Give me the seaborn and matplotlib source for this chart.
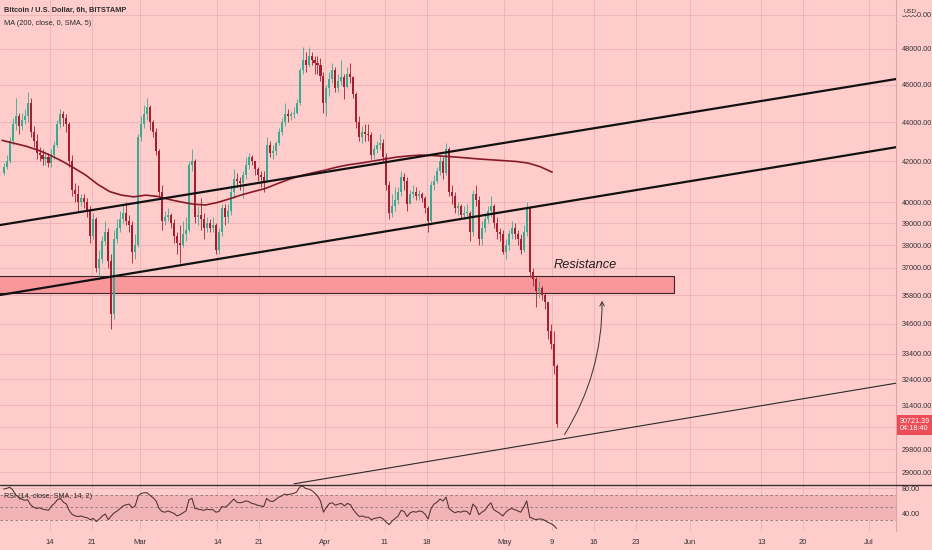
import numpy as np
import pandas as pd
import matplotlib
matplotlib.use("Agg")
import matplotlib.pyplot as plt
import matplotlib.dates as mdates
from matplotlib.patches import Rectangle, FancyArrowPatch
from matplotlib.lines import Line2D
from matplotlib.ticker import FixedLocator, FuncFormatter, NullFormatter
import seaborn as sns

# BTC/USD (Bitstamp), 12h bars, prices in thousands of USD
first_open = 41.4
closes = [
    41.7, 42.0, 43.0, 43.9, 44.3, 43.8, 44.1, 44.3, 45.0, 43.5,   # Feb 6-10
    43.0, 42.4, 42.3, 42.1, 42.2, 41.9, 42.3, 42.8, 43.9, 44.4,   # Feb 11-15
    44.2, 43.9, 42.0, 40.6, 40.4, 40.0, 40.2, 40.0, 39.6, 38.4,   # Feb 16-20
    39.2, 37.0, 37.4, 38.2, 38.6, 37.3, 35.0, 38.3, 38.8, 39.2,   # Feb 21-25
    39.5, 39.1, 38.9, 37.7, 38.0, 43.2, 43.9, 44.4, 44.8, 44.0,   # Feb 26-Mar 2
    43.5, 42.5, 40.5, 39.1, 39.3, 39.4, 39.0, 38.4, 38.1, 38.0,   # Mar 3-7
    38.5, 38.7, 41.8, 42.0, 39.3, 39.4, 39.2, 38.8, 39.0, 38.8,   # Mar 8-12
    38.9, 37.8, 38.6, 39.7, 39.3, 39.6, 40.5, 41.1, 41.0, 40.9,   # Mar 13-17
    41.3, 41.8, 42.2, 42.0, 41.6, 41.3, 41.2, 41.0, 42.8, 42.4,   # Mar 18-22
    42.5, 42.9, 43.5, 44.0, 44.4, 44.3, 44.4, 44.5, 45.0, 46.8,   # Mar 23-27
    47.4, 47.1, 47.6, 47.4, 47.2, 47.1, 46.5, 45.0, 45.8, 46.3,   # Mar 28-Apr 1
    46.8, 45.8, 46.2, 46.4, 45.9, 46.6, 46.4, 45.5, 44.0, 43.2,   # Apr 2-6
    43.5, 43.4, 43.3, 42.3, 42.6, 42.8, 42.9, 42.2, 40.8, 39.5,   # Apr 7-11
    39.8, 40.1, 40.5, 41.2, 41.0, 39.9, 40.4, 40.5, 40.3, 40.4,   # Apr 12-16
    40.2, 39.7, 39.1, 40.8, 41.0, 41.5, 42.0, 41.4, 42.6, 40.5,   # Apr 17-21
    40.3, 39.7, 39.8, 39.4, 39.5, 39.5, 38.6, 40.4, 40.1, 38.3,   # Apr 22-26
    38.8, 39.2, 39.6, 39.8, 39.0, 38.6, 38.5, 37.7, 38.0, 38.5,   # Apr 27-May 1
    38.8, 38.5, 38.3, 37.8, 38.6, 39.7, 36.8, 36.5, 36.0, 36.1,   # May 2-6
    35.8, 35.5, 34.3, 33.8, 32.9, 30.72,                          # May 7-9
]
highs = [
    41.9, 42.3, 43.2, 44.2, 45.3, 44.5, 44.5, 44.7, 45.6, 45.3,
    43.8, 43.4, 42.7, 42.6, 42.5, 42.4, 42.6, 43.0, 44.1, 44.7,
    44.6, 44.4, 44.0, 42.3, 40.9, 40.8, 40.4, 40.4, 40.2, 39.8,
    39.5, 39.3, 37.8, 38.4, 39.1, 38.8, 37.6, 38.7, 39.2, 39.6,
    39.9, 40.0, 39.4, 39.1, 38.5, 43.4, 44.3, 44.9, 45.3, 44.9,
    44.1, 43.7, 42.6, 40.8, 39.6, 39.7, 39.5, 39.2, 38.6, 38.9,
    39.1, 39.3, 42.0, 42.6, 42.1, 39.8, 40.2, 39.5, 39.3, 39.2,
    39.3, 39.0, 38.8, 39.9, 39.9, 39.9, 40.8, 41.6, 41.4, 41.2,
    41.5, 42.2, 42.4, 42.3, 42.0, 41.7, 41.5, 41.5, 43.2, 43.0,
    42.8, 43.0, 43.7, 44.2, 45.0, 44.7, 44.6, 44.8, 45.2, 46.9,
    48.1, 47.8, 48.1, 47.8, 47.6, 47.6, 47.5, 46.7, 46.0, 46.7,
    47.2, 47.0, 46.6, 47.4, 46.6, 47.0, 47.2, 46.5, 45.6, 44.3,
    43.8, 43.9, 43.9, 43.5, 42.8, 43.0, 43.4, 43.1, 42.4, 41.0,
    40.4, 40.7, 40.7, 41.5, 41.4, 41.2, 40.6, 40.8, 40.7, 40.6,
    40.5, 40.3, 39.8, 41.0, 41.3, 41.7, 42.3, 42.2, 42.9, 42.7,
    40.8, 40.5, 40.0, 39.9, 39.8, 39.9, 39.6, 40.6, 40.8, 40.3,
    39.1, 39.5, 39.8, 40.3, 39.9, 39.3, 38.8, 38.7, 38.3, 38.7,
    39.1, 39.0, 38.7, 38.5, 38.9, 40.0, 39.8, 37.0, 36.6, 36.4,
    36.2, 35.9, 35.5, 34.6, 34.3, 33.0,
]
lows = [
    41.3, 41.6, 41.9, 42.8, 43.6, 43.4, 43.6, 43.9, 44.0, 43.2,
    42.7, 42.1, 42.0, 41.8, 41.8, 41.7, 41.7, 42.1, 42.7, 43.7,
    43.8, 43.5, 41.7, 40.3, 40.0, 39.6, 39.8, 39.7, 39.3, 38.1,
    38.3, 36.8, 36.5, 37.2, 38.0, 37.0, 34.4, 34.8, 38.1, 38.6,
    39.0, 38.9, 38.6, 37.2, 37.4, 37.9, 43.0, 43.7, 44.1, 43.6,
    43.2, 42.3, 40.3, 38.7, 38.9, 39.1, 38.8, 38.1, 37.6, 37.2,
    37.9, 38.2, 38.6, 41.5, 39.0, 38.9, 38.7, 38.3, 38.6, 38.6,
    38.6, 37.6, 37.6, 38.4, 38.9, 39.0, 39.4, 40.2, 40.7, 40.6,
    40.2, 41.1, 41.6, 41.8, 41.3, 41.0, 40.7, 40.5, 41.0, 42.2,
    42.1, 42.3, 42.8, 43.3, 43.8, 44.0, 44.1, 44.2, 44.4, 44.9,
    46.6, 46.7, 47.0, 47.1, 46.6, 46.6, 46.2, 44.5, 44.3, 45.4,
    46.1, 45.6, 45.6, 46.0, 45.2, 45.8, 46.1, 45.3, 43.7, 43.0,
    42.9, 43.0, 43.0, 42.1, 42.1, 42.4, 42.6, 42.0, 40.6, 39.2,
    39.3, 39.6, 39.9, 40.3, 40.6, 39.6, 39.9, 40.2, 40.1, 40.1,
    40.0, 39.5, 38.6, 38.9, 40.6, 40.9, 41.3, 41.1, 41.3, 40.3,
    39.9, 39.5, 39.4, 39.2, 39.2, 39.2, 38.2, 38.4, 39.8, 38.0,
    38.0, 38.6, 39.0, 39.3, 38.8, 38.3, 38.2, 37.6, 37.4, 37.8,
    38.3, 38.3, 38.0, 37.6, 37.7, 38.4, 36.6, 36.2, 35.3, 35.7,
    35.6, 35.2, 34.0, 33.6, 32.6, 30.6,
]
last_price = 30721.39
countdown = "04:18:40"

# MA(200) line, one reading every two days from Feb 6 to May 9 (thousands)
ma_values = [
    43.05, 42.90, 42.75, 42.55, 42.30, 42.00, 41.66, 41.30, 40.85, 40.50,
    40.33, 40.25, 40.33, 40.27, 40.12, 40.00, 39.90, 39.86, 39.98, 40.15,
    40.34, 40.50, 40.65, 40.88, 41.10, 41.28, 41.42, 41.55, 41.70, 41.82,
    41.90, 42.00, 42.10, 42.20, 42.26, 42.30, 42.28, 42.24, 42.20, 42.15,
    42.10, 42.06, 42.02, 41.98, 41.90, 41.72, 41.45,
]

# RSI(14) per 12h bar
rsi_values = [
    79, 80, 82, 78, 70, 66, 63, 61, 62, 54,
    50, 48, 49, 47, 46, 45, 52, 56, 62, 64,
    58, 55, 44, 38, 36, 35, 36, 34, 33, 30,
    32, 27, 31, 36, 39, 30, 36, 41, 44, 48,
    52, 54, 55, 49, 52, 68, 72, 73, 73, 69,
    65, 60, 48, 43, 42, 44, 42, 40, 36, 38,
    41, 44, 62, 64, 48, 47, 46, 45, 47, 46,
    46, 42, 43, 51, 50, 53, 58, 63, 58, 57,
    58, 60, 59, 56, 55, 53, 52, 51, 64, 60,
    59, 62, 66, 68, 71, 70, 71, 72, 74, 82,
    84, 80, 79, 77, 73, 68, 60, 42, 50, 56,
    57, 53, 55, 56, 52, 56, 54, 46, 40, 35,
    36, 34, 34, 30, 32, 33, 34, 31, 26, 22,
    28, 32, 36, 45, 43, 35, 41, 43, 42, 44,
    43, 39, 31, 48, 55, 58, 63, 60, 66, 48,
    44, 41, 43, 42, 44, 43, 38, 55, 50, 38,
    42, 45, 52, 57, 46, 43, 40, 36, 42, 46,
    48, 46, 44, 42, 50, 60, 34, 32, 30, 31,
    31, 29, 26, 24, 21, 16,
]

# drawn lines: (start, end) dates and prices
upper_line_dates = ["2022-02-05 15:20", "2022-07-05 12:30"]
upper_line_prices = [38920, 46310]
lower_line_dates = ["2022-02-05 15:20", "2022-07-05 12:30"]
lower_line_prices = [35810, 42700]
support_dates = ["2022-03-26 19:40", "2022-07-05 12:30"]
support_prices = [28600, 32240]
zone_dates = ["2022-01-20", "2022-05-29 09:20"]
zone_prices = [35890, 36630]
arrow_dates = ["2022-05-10 19:40", "2022-05-17 08:10"]
arrow_prices = [30240, 35680]

price_ticks = [50000, 48000, 46000, 44000, 42000, 40000, 39000, 38000, 37000,
               35800, 34600, 33400, 32400, 31400, 29800, 29000]
hidden_price_ticks = [30600]   # grid line only, label sits under the price tag
rsi_ticks = [80, 40]
date_ticks = ["2022-02-14", "2022-02-21", "2022-03-01", "2022-03-14", "2022-03-21",
              "2022-04-01", "2022-04-11", "2022-04-18", "2022-05-01", "2022-05-09",
              "2022-05-16", "2022-05-23", "2022-06-01", "2022-06-13", "2022-06-20",
              "2022-07-01"]
date_labels = ["14", "21", "Mar", "14", "21", "Apr", "11", "18", "May", "9",
               "16", "23", "Jun", "13", "20", "Jul"]

# colours
BG = "#ffcccc"
GRID = "#eeb6b8"
UP = "#38ab90"
DOWN = "#a51f2e"
MA_COL = "#861a28"
TEXT = "#2b2b2b"

sns.set_style("white", {"axes.facecolor": BG, "figure.facecolor": BG})
plt.rcParams["font.family"] = ["Liberation Sans Narrow", "Liberation Sans", "DejaVu Sans"]

# candle table
bars = pd.DataFrame({
    "time": pd.date_range("2022-02-06", periods=len(closes), freq="12h") + pd.Timedelta(hours=6),
    "close": np.array(closes) * 1000,
})
bars["open"] = np.r_[first_open, closes[:-1]] * 1000
bars["high"] = np.maximum(np.array(highs) * 1000, bars[["open", "close"]].max(axis=1))
bars["low"] = np.minimum(np.array(lows) * 1000, bars[["open", "close"]].min(axis=1))
bars["rsi"] = rsi_values
ma = pd.DataFrame({"time": pd.date_range("2022-02-06", "2022-05-09", freq="2D"),
                   "ma": np.array(ma_values) * 1000})

fig = plt.figure(figsize=(9.32, 5.5), dpi=100)
ax = fig.add_axes([0, 0.11818, 0.96137, 0.88182])
ax_rsi = fig.add_axes([0, 0.034545, 0.96137, 0.083636], sharex=ax)

xmin, xmax = pd.Timestamp("2022-02-05 15:20"), pd.Timestamp("2022-07-05 12:30")
tick_pos = mdates.date2num(pd.to_datetime(date_ticks))

# main pane
ax.set_yscale("log")
ax.set_ylim(28560, 50880)
ax.set_xlim(xmin, xmax)

z0 = mdates.date2num(pd.Timestamp(zone_dates[0]))
z1 = mdates.date2num(pd.Timestamp(zone_dates[1]))
ax.add_patch(Rectangle((z0, zone_prices[0]), z1 - z0, zone_prices[1] - zone_prices[0],
                       facecolor="#f7979b", edgecolor="#3a2626", lw=0.8, zorder=1))

for is_up, col in [(True, UP), (False, DOWN)]:
    sel = bars[(bars.close >= bars.open) == is_up]
    ax.vlines(sel.time, sel.low, sel.high, color=col, lw=0.6, zorder=3)
    ax.bar(sel.time, (sel.close - sel.open).abs().clip(lower=25), bottom=sel[["open", "close"]].min(axis=1),
           width=0.34, color=col, lw=0, zorder=3)

sns.lineplot(data=ma, x="time", y="ma", ax=ax, color=MA_COL, lw=1.2, zorder=4)

ax.plot(pd.to_datetime(upper_line_dates), upper_line_prices, color="#111111", lw=1.6, zorder=5)
ax.plot(pd.to_datetime(lower_line_dates), lower_line_prices, color="#111111", lw=1.6, zorder=5)
ax.plot(pd.to_datetime(support_dates), support_prices, color="#2a2a2a", lw=0.8, zorder=5)

ax.add_patch(FancyArrowPatch(
    (mdates.date2num(pd.Timestamp(arrow_dates[0])), arrow_prices[0]),
    (mdates.date2num(pd.Timestamp(arrow_dates[1])), arrow_prices[1]),
    connectionstyle="arc3,rad=0.15", arrowstyle="->,head_length=3,head_width=1.6",
    color="#333333", lw=0.7, zorder=6))

ax.text(pd.Timestamp("2022-05-14 12:00"), 37110, "Resistance", fontsize=9.2, style="italic",
        color="#1e1e1e", ha="center", va="center", zorder=6)

ax.xaxis.set_major_locator(FixedLocator(tick_pos))
ax.yaxis.set_major_locator(FixedLocator(price_ticks))
ax.yaxis.set_minor_locator(FixedLocator(hidden_price_ticks))
ax.yaxis.set_major_formatter(FuncFormatter(lambda v, p: f"{v:.2f}"))
ax.yaxis.set_minor_formatter(NullFormatter())
ax.yaxis.tick_right()
ax.tick_params(axis="y", which="both", length=0, pad=4, labelsize=5.2, labelcolor="#333333")
ax.tick_params(axis="x", length=0, labelbottom=False)
ax.grid(True, which="both", color=GRID, lw=0.7)
ax.set_axisbelow(True)
ax.set_xlabel("")
ax.set_ylabel("")
for side in ["top", "left", "bottom"]:
    ax.spines[side].set_visible(False)
ax.spines["right"].set_color("#dba5a7")
ax.spines["right"].set_linewidth(0.8)

ax.text(0.004, 0.978, "Bitcoin / U.S. Dollar, 6h, BITSTAMP", transform=ax.transAxes,
        fontsize=5.3, fontweight="bold", color=TEXT, va="center")
ax.text(0.004, 0.952, "MA (200, close, 0, SMA, 5)", transform=ax.transAxes,
        fontsize=5.3, color=TEXT, va="center")

ax.annotate(f"{last_price:.2f}\n{countdown}", xy=(1.0, last_price), xycoords=("axes fraction", "data"),
            xytext=(2.5, -1), textcoords="offset points", ha="left", va="center", fontsize=5.2,
            color="white", linespacing=1.15, annotation_clip=False, zorder=10,
            bbox=dict(boxstyle="square,pad=0.4", facecolor="#ee4c56", edgecolor="none"))
ax.annotate("USD", xy=(1.0, 50000), xycoords=("axes fraction", "data"),
            xytext=(10, 2.5), textcoords="offset points", ha="center", va="center", fontsize=4.5,
            color="#333333", annotation_clip=False, zorder=10,
            bbox=dict(boxstyle="square,pad=0.15", facecolor=BG, edgecolor="none"))

# RSI pane
ax_rsi.set_ylim(11.9, 85.5)
ax_rsi.axhspan(30, 70, color="#f2b3b6", lw=0, zorder=0)
for lvl in [70, 50, 30]:
    ax_rsi.axhline(lvl, color="#8c7474", lw=0.6, ls=(0, (3, 3)), zorder=1)
sns.lineplot(data=bars, x="time", y="rsi", ax=ax_rsi, color="#4e3030", lw=0.75, zorder=3)
ax_rsi.yaxis.set_major_locator(FixedLocator(rsi_ticks))
ax_rsi.yaxis.set_major_formatter(FuncFormatter(lambda v, p: f"{v:.2f}"))
ax_rsi.yaxis.tick_right()
ax_rsi.xaxis.set_major_locator(FixedLocator(tick_pos))
ax_rsi.set_xticklabels(date_labels)
ax_rsi.tick_params(axis="y", length=0, pad=4, labelsize=5.2, labelcolor="#333333")
ax_rsi.tick_params(axis="x", length=0, pad=6, labelsize=5.5, labelcolor="#333333")
ax_rsi.grid(True, color=GRID, lw=0.7)
ax_rsi.set_axisbelow(True)
ax_rsi.set_xlabel("")
ax_rsi.set_ylabel("")
for side in ["top", "left", "bottom"]:
    ax_rsi.spines[side].set_visible(False)
ax_rsi.spines["right"].set_color("#dba5a7")
ax_rsi.spines["right"].set_linewidth(0.8)
ax_rsi.text(0.004, 0.75, "RSI (14, close, SMA, 14, 2)", transform=ax_rsi.transAxes,
            fontsize=5.2, color=TEXT, va="center")
ax_rsi.set_xlim(xmin, xmax)

# pane separator
fig.add_artist(Line2D([0, 1], [0.11818, 0.11818], transform=fig.transFigure, color="#3a2f2f", lw=1.0))

fig.savefig("out.png", dpi=100, facecolor=BG)
